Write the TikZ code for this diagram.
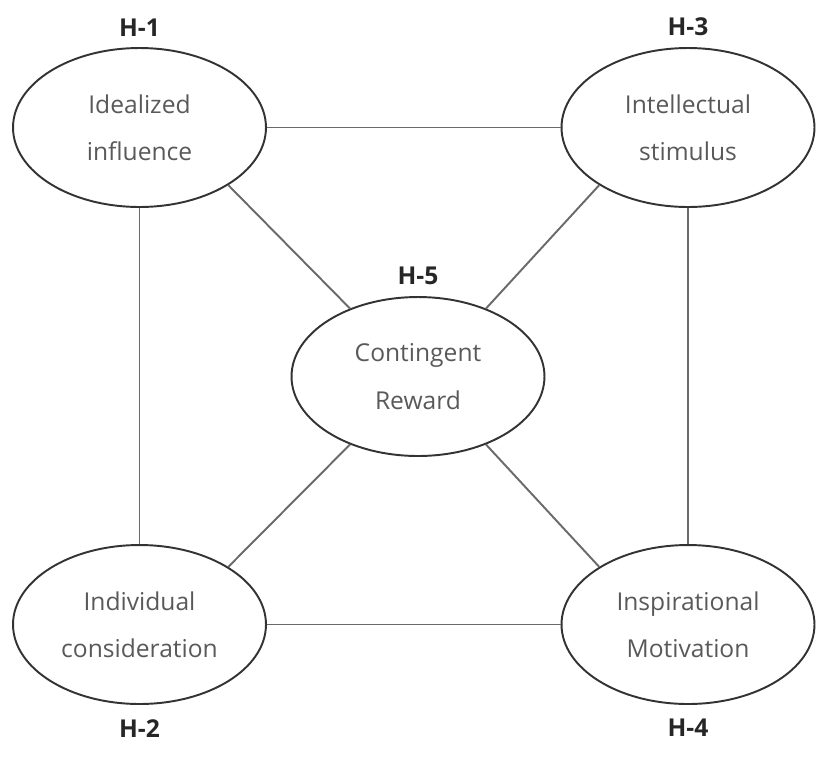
\documentclass[tikz,border=0pt]{standalone}
\usepackage{fontspec}
\setmainfont{Open Sans}
\usetikzlibrary{shapes.geometric}
\definecolor{textgray}{HTML}{595959}
\definecolor{linegray}{HTML}{6A6A6A}
\begin{document}
\begin{tikzpicture}[x=0.02cm,y=-0.02cm,
    dimension/.style ={ellipse, draw=black!80, line width=1.1pt, minimum width=5.06cm, minimum height=3.18cm,
      inner sep=0pt, align=center, text=textgray, font=\fontsize{14}{27}\selectfont},
    hyp/.style ={font=\bfseries\fontsize{14}{16}\selectfont, text=black!85, inner sep=0pt},
    link/.style ={draw=linegray, line width=1.1pt}]
   \useasboundingbox (0,0) rectangle (827,768);
   \node[dimension] (A) [label={[hyp,label distance=6pt]90:H-1}] at (139.5,127.5) {Idealized\\influence};
   \node[dimension] (B) [label={[hyp,label distance=8pt]270:H-2}] at (139.5,624.5) {Individual\\consideration};
   \node[dimension] (C) [label={[hyp,label distance=6pt]90:H-3}] at (688,127.5) {Intellectual\\stimulus};
   \node[dimension] (D) [label={[hyp,label distance=8pt]270:H-4}] at (688,624.5) {Inspirational\\Motivation};
   \node[dimension] (E) [label={[hyp,label distance=6pt]90:H-5}] at (418,376.5) {Contingent\\Reward};
   \draw[link] (A) to (C);
   \draw[link] (B) to (D);
   \draw[link] (A) to (B);
   \draw[link] (C) to (D);
   \draw[link] (A.-33) to (E.135);
   \draw[link] (C.213) to (E.45);
   \draw[link] (B.33) to (E.225);
   \draw[link] (D.147) to (E.-45);
\end{tikzpicture}
\end{document}
